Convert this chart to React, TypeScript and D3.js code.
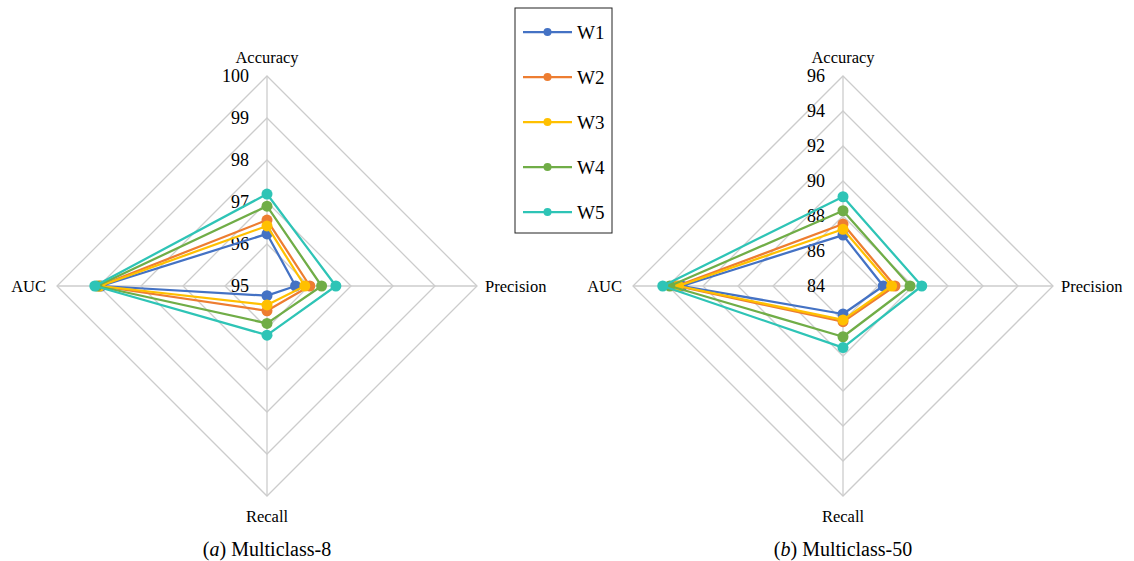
import React, { useRef, useEffect } from 'react';
import * as d3 from 'd3';

const axes = ['Accuracy', 'Precision', 'Recall', 'AUC'];
const seriesNames = ['W1', 'W2', 'W3', 'W4', 'W5'];
const colors = ['#4472C4', '#ED7D31', '#FFC000', '#70AD47', '#2EC4B6'];

// Multiclass-8 (Accuracy, Precision, Recall, AUC)
const m8Ticks = [95, 96, 97, 98, 99, 100];
const m8W1 = [96.24, 95.68, 95.23, 98.95];
const m8W2 = [96.57, 96.02, 95.59, 99.0];
const m8W3 = [96.43, 95.9, 95.45, 98.98];
const m8W4 = [96.9, 96.3, 95.89, 99.05];
const m8W5 = [97.19, 96.64, 96.17, 99.1];

// Multiclass-50
const m50Ticks = [84, 86, 88, 90, 92, 94, 96];
const m50W1 = [86.91, 86.3, 85.6, 93.2];
const m50W2 = [87.54, 86.97, 86.04, 93.5];
const m50W3 = [87.24, 86.78, 85.94, 93.4];
const m50W4 = [88.3, 87.83, 86.9, 93.9];
const m50W5 = [89.1, 88.5, 87.52, 94.3];

const FONT = 'Liberation Serif, DejaVu Serif, serif';

function App() {
  const ref = useRef<SVGSVGElement>(null);

  useEffect(() => {
    const svg = d3.select(ref.current);
    svg.selectAll('*').remove();

    const radius = 210;

    function radar(cx: number, cy: number, ticks: number[], data: number[][], tag: string, name: string) {
      const g = svg.append('g').attr('transform', `translate(${cx},${cy})`);
      const r = d3.scaleLinear().domain([ticks[0], ticks[ticks.length - 1]]).range([0, radius]);
      const ang = d3.scaleLinear().domain([0, axes.length]).range([0, 2 * Math.PI]);

      const ring = d3.lineRadial<number>()
        .angle((d, i) => ang(i))
        .radius(d => d)
        .curve(d3.curveLinearClosed);

      // grid rings
      g.selectAll('path.grid')
        .data(ticks.slice(1))
        .enter()
        .append('path')
        .attr('d', t => ring(axes.map(() => r(t))))
        .attr('fill', 'none')
        .attr('stroke', '#cccccc')
        .attr('stroke-width', 1.3);

      // spokes
      axes.forEach((a, i) => {
        const p = d3.pointRadial(ang(i), radius);
        g.append('line')
          .attr('x1', 0).attr('y1', 0)
          .attr('x2', p[0]).attr('y2', p[1])
          .attr('stroke', '#cccccc')
          .attr('stroke-width', 1.3);
      });

      // tick labels
      g.selectAll('text.tick')
        .data(ticks)
        .enter()
        .append('text')
        .attr('x', -18)
        .attr('y', t => -r(t))
        .attr('dy', '0.35em')
        .attr('text-anchor', 'end')
        .style('font-family', FONT)
        .style('font-size', '18px')
        .text(t => t);

      // axis labels
      const lab = [
        { x: 0, y: -radius - 19, anchor: 'middle' },
        { x: radius + 8, y: 0, anchor: 'start' },
        { x: 0, y: radius + 20, anchor: 'middle' },
        { x: -radius - 11, y: 0, anchor: 'end' },
      ];
      axes.forEach((a, i) => {
        g.append('text')
          .attr('x', lab[i].x)
          .attr('y', lab[i].y)
          .attr('dy', '0.35em')
          .attr('text-anchor', lab[i].anchor)
          .style('font-family', FONT)
          .style('font-size', '16.5px')
          .text(a);
      });

      // series
      data.forEach((vals, s) => {
        g.append('path')
          .attr('d', ring(vals.map(v => r(v))))
          .attr('fill', 'none')
          .attr('stroke', colors[s])
          .attr('stroke-width', 2.25)
          .attr('stroke-linejoin', 'round');
        vals.forEach((v, i) => {
          const p = d3.pointRadial(ang(i), r(v));
          g.append('circle')
            .attr('cx', p[0]).attr('cy', p[1])
            .attr('r', 5.5)
            .attr('fill', colors[s]);
        });
      });

      // caption
      const cap = g.append('text')
        .attr('x', 0)
        .attr('y', 263)
        .attr('dy', '0.35em')
        .attr('text-anchor', 'middle')
        .style('font-family', FONT)
        .style('font-size', '20px');
      cap.append('tspan').text('(');
      cap.append('tspan').style('font-style', 'italic').text(tag);
      cap.append('tspan').text(') ' + name);
    }

    radar(267, 286, m8Ticks, [m8W1, m8W2, m8W3, m8W4, m8W5], 'a', 'Multiclass-8');
    radar(843, 286, m50Ticks, [m50W1, m50W2, m50W3, m50W4, m50W5], 'b', 'Multiclass-50');

    // legend
    const lg = svg.append('g').attr('transform', 'translate(515,8)');
    lg.append('rect')
      .attr('x', 0).attr('y', 0)
      .attr('width', 97).attr('height', 225)
      .attr('fill', 'white')
      .attr('stroke', '#222')
      .attr('stroke-width', 1);
    const ly = d3.scalePoint<string>().domain(seriesNames).range([24, 204]);
    seriesNames.forEach((n, i) => {
      const y = ly(n) as number;
      lg.append('line')
        .attr('x1', 8).attr('x2', 57)
        .attr('y1', y).attr('y2', y)
        .attr('stroke', colors[i])
        .attr('stroke-width', 2.25);
      lg.append('circle')
        .attr('cx', 32.5).attr('cy', y)
        .attr('r', 4)
        .attr('fill', colors[i]);
      lg.append('text')
        .attr('x', 62).attr('y', y)
        .attr('dy', '0.35em')
        .style('font-family', FONT)
        .style('font-size', '19px')
        .text(n);
    });
  }, []);

  return (
    <svg ref={ref} width={1134} height={561}
      style={{ position: 'absolute', left: 0, top: 0, background: 'white' }} />
  );
}

export default App;
